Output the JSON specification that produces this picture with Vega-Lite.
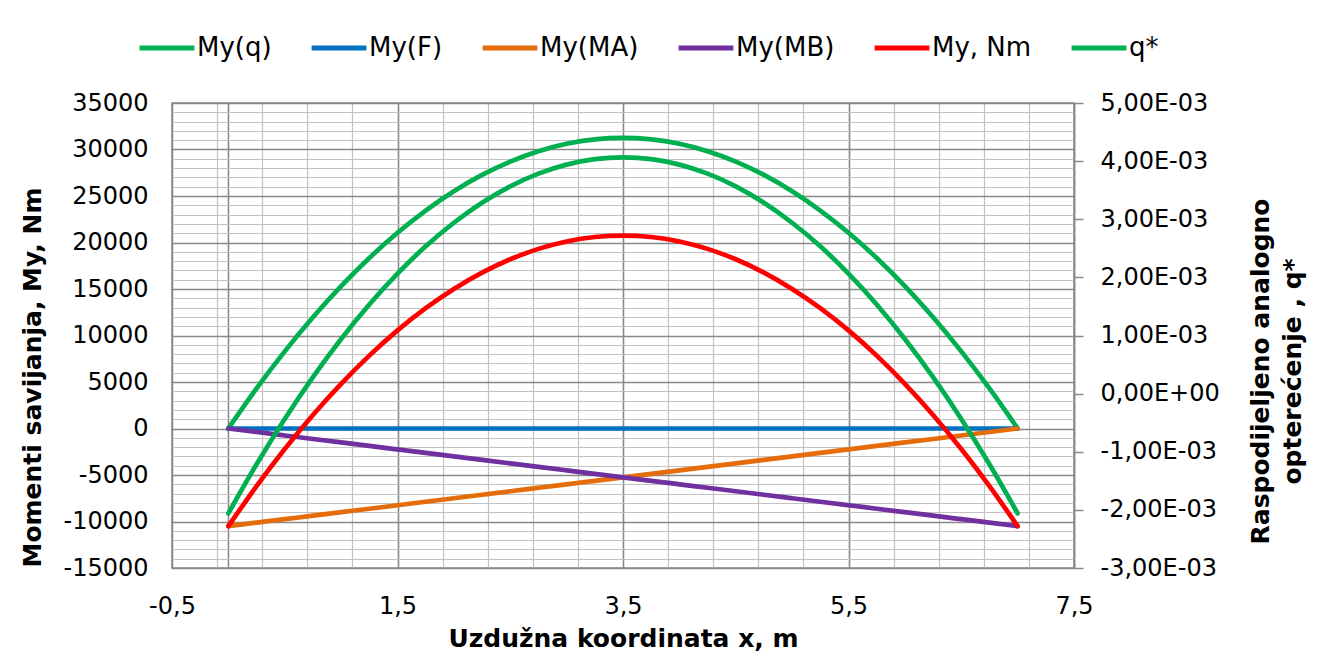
{
  "$schema": "https://vega.github.io/schema/vega-lite/v6.json",
  "width": 902,
  "height": 465,
  "autosize": {"type": "none"},
  "padding": {"left": 172, "top": 103, "right": 254, "bottom": 84},
  "background": "white",
  "config": {
    "locale": {"number": {"decimal": ",", "thousands": "", "grouping": [3], "currency": ["", ""], "minus": "-"}},
    "font": "DejaVu Sans",
    "view": {"stroke": "#898989", "strokeWidth": 1.5},
    "axis": {
      "labelFont": "DejaVu Sans",
      "labelFontSize": 24,
      "labelColor": "#000000",
      "titleFont": "DejaVu Sans",
      "titleFontSize": 25,
      "titleFontWeight": "bold",
      "titleColor": "#000000"
    }
  },
  "data": {
    "values": [
      {"x": 0, "My(q)": 0, "My(F)": 0, "My(MA)": -10500, "My(MB)": 0, "My, Nm": -10500, "qstar": -0.00206},
      {"x": 0.25, "My(q)": 4305, "My(F)": 0, "My(MA)": -10125, "My(MB)": -375, "My, Nm": -6195, "qstar": -0.001216},
      {"x": 0.5, "My(q)": 8291, "My(F)": 0, "My(MA)": -9750, "My(MB)": -750, "My, Nm": -2209, "qstar": -0.000435},
      {"x": 0.75, "My(q)": 11958, "My(F)": 0, "My(MA)": -9375, "My(MB)": -1125, "My, Nm": 1458, "qstar": 0.000284},
      {"x": 1, "My(q)": 15306, "My(F)": 0, "My(MA)": -9000, "My(MB)": -1500, "My, Nm": 4806, "qstar": 0.00094},
      {"x": 1.25, "My(q)": 18335, "My(F)": 0, "My(MA)": -8625, "My(MB)": -1875, "My, Nm": 7835, "qstar": 0.001534},
      {"x": 1.5, "My(q)": 21046, "My(F)": 0, "My(MA)": -8250, "My(MB)": -2250, "My, Nm": 10546, "qstar": 0.002065},
      {"x": 1.75, "My(q)": 23438, "My(F)": 0, "My(MA)": -7875, "My(MB)": -2625, "My, Nm": 12938, "qstar": 0.002534},
      {"x": 2, "My(q)": 25510, "My(F)": 0, "My(MA)": -7500, "My(MB)": -3000, "My, Nm": 15010, "qstar": 0.00294},
      {"x": 2.25, "My(q)": 27264, "My(F)": 0, "My(MA)": -7125, "My(MB)": -3375, "My, Nm": 16764, "qstar": 0.003284},
      {"x": 2.5, "My(q)": 28699, "My(F)": 0, "My(MA)": -6750, "My(MB)": -3750, "My, Nm": 18199, "qstar": 0.003565},
      {"x": 2.75, "My(q)": 29815, "My(F)": 0, "My(MA)": -6375, "My(MB)": -4125, "My, Nm": 19315, "qstar": 0.003784},
      {"x": 3, "My(q)": 30612, "My(F)": 0, "My(MA)": -6000, "My(MB)": -4500, "My, Nm": 20112, "qstar": 0.00394},
      {"x": 3.25, "My(q)": 31091, "My(F)": 0, "My(MA)": -5625, "My(MB)": -4875, "My, Nm": 20591, "qstar": 0.004034},
      {"x": 3.5, "My(q)": 31250, "My(F)": 0, "My(MA)": -5250, "My(MB)": -5250, "My, Nm": 20750, "qstar": 0.004065},
      {"x": 3.75, "My(q)": 31091, "My(F)": 0, "My(MA)": -4875, "My(MB)": -5625, "My, Nm": 20591, "qstar": 0.004034},
      {"x": 4, "My(q)": 30612, "My(F)": 0, "My(MA)": -4500, "My(MB)": -6000, "My, Nm": 20112, "qstar": 0.00394},
      {"x": 4.25, "My(q)": 29815, "My(F)": 0, "My(MA)": -4125, "My(MB)": -6375, "My, Nm": 19315, "qstar": 0.003784},
      {"x": 4.5, "My(q)": 28699, "My(F)": 0, "My(MA)": -3750, "My(MB)": -6750, "My, Nm": 18199, "qstar": 0.003565},
      {"x": 4.75, "My(q)": 27264, "My(F)": 0, "My(MA)": -3375, "My(MB)": -7125, "My, Nm": 16764, "qstar": 0.003284},
      {"x": 5, "My(q)": 25510, "My(F)": 0, "My(MA)": -3000, "My(MB)": -7500, "My, Nm": 15010, "qstar": 0.00294},
      {"x": 5.25, "My(q)": 23438, "My(F)": 0, "My(MA)": -2625, "My(MB)": -7875, "My, Nm": 12938, "qstar": 0.002534},
      {"x": 5.5, "My(q)": 21046, "My(F)": 0, "My(MA)": -2250, "My(MB)": -8250, "My, Nm": 10546, "qstar": 0.002065},
      {"x": 5.75, "My(q)": 18335, "My(F)": 0, "My(MA)": -1875, "My(MB)": -8625, "My, Nm": 7835, "qstar": 0.001534},
      {"x": 6, "My(q)": 15306, "My(F)": 0, "My(MA)": -1500, "My(MB)": -9000, "My, Nm": 4806, "qstar": 0.00094},
      {"x": 6.25, "My(q)": 11958, "My(F)": 0, "My(MA)": -1125, "My(MB)": -9375, "My, Nm": 1458, "qstar": 0.000284},
      {"x": 6.5, "My(q)": 8291, "My(F)": 0, "My(MA)": -750, "My(MB)": -9750, "My, Nm": -2209, "qstar": -0.000435},
      {"x": 6.75, "My(q)": 4305, "My(F)": 0, "My(MA)": -375, "My(MB)": -10125, "My, Nm": -6195, "qstar": -0.001216},
      {"x": 7, "My(q)": 0, "My(F)": 0, "My(MA)": 0, "My(MB)": -10500, "My, Nm": -10500, "qstar": -0.00206}
    ]
  },
  "layer": [
    {
      "transform": [{"fold": ["My(q)", "My(F)", "My(MA)", "My(MB)", "My, Nm"], "as": ["serija", "vrijednost"]}],
      "mark": {"type": "line", "strokeWidth": 4.7, "strokeCap": "round", "strokeJoin": "round", "interpolate": "monotone"},
      "encoding": {
        "x": {
          "field": "x",
          "type": "quantitative",
          "scale": {"domain": [-0.5, 7.5], "nice": false, "zero": false},
          "axis": {
            "values": [-0.5, -0.1, 0, 0.3, 0.7, 1.1, 1.5, 1.9, 2.3, 2.7, 3.1, 3.5, 3.9, 4.3, 4.7, 5.1, 5.5, 5.9, 6.3, 6.7, 7.1, 7.5],
            "ticks": false,
            "tickSize": 0,
            "domain": false,
            "labelPadding": 26,
            "labelOverlap": false,
            "labelFlush": false,
            "labelBound": false,
            "labelExpr": "abs((datum.value + 0.5) / 2 - round((datum.value + 0.5) / 2)) < 0.001 ? replace(replace(format(datum.value, '.1f'), '.', ','), '\u2212', '-') : ''",
            "grid": true,
            "gridColor": {"condition": {"test": "abs((datum.value + 0.5) / 2 - round((datum.value + 0.5) / 2)) < 0.001 || abs(datum.value) < 0.001", "value": "#898989"}, "value": "#c3c3c3"},
            "gridWidth": {"condition": {"test": "abs((datum.value + 0.5) / 2 - round((datum.value + 0.5) / 2)) < 0.001 || abs(datum.value) < 0.001", "value": 1.6}, "value": 1.2},
            "title": "Uzdužna koordinata x, m",
            "titleBaseline": "top",
            "titleY": 58
          }
        },
        "y": {
          "field": "vrijednost",
          "type": "quantitative",
          "scale": {"domain": [-15000, 35000], "nice": false, "zero": false},
          "axis": {
            "orient": "left",
            "values": [-15000, -14000, -13000, -12000, -11000, -10000, -9000, -8000, -7000, -6000, -5000, -4000, -3000, -2000, -1000, 0, 1000, 2000, 3000, 4000, 5000, 6000, 7000, 8000, 9000, 10000, 11000, 12000, 13000, 14000, 15000, 16000, 17000, 18000, 19000, 20000, 21000, 22000, 23000, 24000, 25000, 26000, 27000, 28000, 29000, 30000, 31000, 32000, 33000, 34000, 35000],
            "ticks": false,
            "tickSize": 0,
            "domain": false,
            "labelPadding": 24,
            "labelOverlap": false,
            "labelFlush": false,
            "labelBound": false,
            "labelExpr": "datum.value % 5000 === 0 ? replace(format(datum.value, 'd'), '\u2212', '-') : ''",
            "grid": true,
            "gridColor": {"condition": {"test": "datum.value % 5000 === 0", "value": "#898989"}, "value": "#c3c3c3"},
            "gridWidth": {"condition": {"test": "datum.value % 5000 === 0", "value": 1.6}, "value": 1.2},
            "title": "Momenti savijanja, My, Nm",
            "titleAngle": 270,
            "titleAlign": "center",
            "titleBaseline": "alphabetic",
            "titleX": -132,
            "titleY": 274
          }
        },
        "color": {
          "field": "serija",
          "type": "nominal",
          "scale": {
            "domain": ["My(q)", "My(F)", "My(MA)", "My(MB)", "My, Nm", "q*"],
            "range": ["#00B050", "#0070C0", "#E46C0A", "#7030A0", "#FF0000", "#00B050"]
          },
          "legend": {
            "orient": "none",
            "legendX": -35,
            "legendY": -85,
            "direction": "horizontal",
            "columns": 6,
            "title": null,
            "symbolType": "stroke",
            "symbolSize": 3000,
            "symbolStrokeWidth": 5,
            "labelFont": "DejaVu Sans",
            "labelFontSize": 26,
            "labelColor": "#000000",
            "labelOffset": 0,
            "labelLimit": 400,
            "columnPadding": 29
          }
        }
      }
    },
    {
      "mark": {"type": "line", "strokeWidth": 4.7, "strokeCap": "round", "strokeJoin": "round", "interpolate": "monotone"},
      "encoding": {
        "x": {"field": "x", "type": "quantitative"},
        "y": {
          "field": "qstar",
          "type": "quantitative",
          "scale": {"domain": [-0.003, 0.005], "nice": false, "zero": false},
          "axis": {
            "orient": "right",
            "values": [-0.003, -0.002, -0.001, 0, 0.001, 0.002, 0.003, 0.004, 0.005],
            "grid": false,
            "ticks": true,
            "tickSize": 9,
            "tickColor": "#898989",
            "tickWidth": 1.5,
            "domain": true,
            "domainColor": "#898989",
            "domainWidth": 1.5,
            "labelPadding": 17,
            "labelOverlap": false,
            "labelFlush": false,
            "labelBound": false,
            "labelExpr": "abs(datum.value) < 0.0000001 ? '0,00E+00' : (datum.value < 0 ? '-' : '') + abs(round(datum.value * 1000)) + ',00E-03'",
            "title": ["Raspodijeljeno analogno", "opterećenje , q*"],
            "titleAngle": 270,
            "titleAlign": "center",
            "titleBaseline": "alphabetic",
            "titleLineHeight": 32,
            "titleX": 194,
            "titleY": 268
          }
        },
        "color": {"datum": "q*", "type": "nominal"}
      }
    }
  ],
  "resolve": {"scale": {"y": "independent"}, "axis": {"y": "independent"}}
}
